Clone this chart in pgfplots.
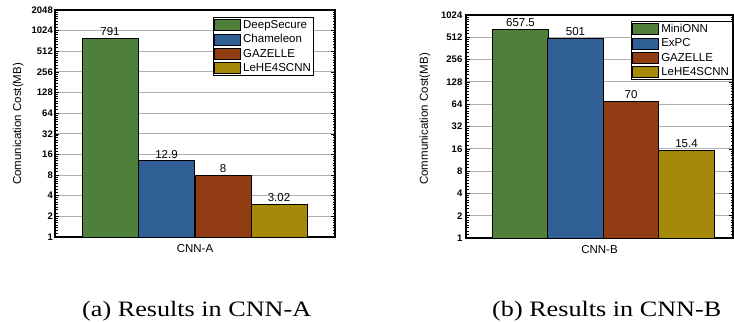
\documentclass[border=0pt]{standalone}
\usepackage{pgfplots}
\pgfplotsset{compat=1.18}
\usepackage{fontspec}
\setmainfont{Liberation Serif}
\newfontfamily\arial{Liberation Sans}

\definecolor{cgreen}{RGB}{78,128,58}
\definecolor{cblue}{RGB}{48,96,150}
\definecolor{corange}{RGB}{145,60,18}
\definecolor{cyellow}{RGB}{165,138,10}
\definecolor{cgrid}{RGB}{175,175,175}

\newcommand\fs[1]{\fontsize{#1}{#1}\selectfont}

\def\minorlist{}
\foreach \k in {0,...,10}{\foreach \i in {1,...,7}{\pgfmathsetmacro\v{2^\k*(1+\i/8)}\xdef\minorlist{\minorlist\v,}}}
\xdef\minorlist{\minorlist 1}

\tikzset{
  barA/.style={fill=cgreen, draw=black, line width=0.8bp},
  barB/.style={fill=cblue, draw=black, line width=0.8bp},
  barC/.style={fill=corange, draw=black, line width=0.8bp},
  barD/.style={fill=cyellow, draw=black, line width=0.8bp},
}

\begin{document}
\begin{tikzpicture}
\useasboundingbox (0,0) rectangle (734bp,322bp);
\begin{axis}[
  scale only axis, ymode=log, ymin=1,
  xmin=-1, xmax=1, xtick={0},
  ymajorgrids, major grid style={cgrid, line width=0.9bp},
  axis line style={line width=1.2bp},
  tick align=inside,
  major tick length=4bp, minor tick length=2.5bp,
  tick style={black, line width=0.6bp},
  major x tick style={draw=none},
  minor ytick/.expanded={\minorlist},
  yticklabel style={font=\arial\bfseries\fs{9.5bp}, inner sep=2bp},
  xticklabel style={font=\arial\fs{11.5bp}},
  ylabel style={font=\arial\fs{11.5bp}, anchor=center},
  ybar, bar width=56bp,
  nodes near coords, point meta=explicit symbolic,
  nodes near coords style={font=\arial\fs{11.5bp}, inner sep=2bp, anchor=south},
  legend style={anchor=north west, draw=black, line width=0.9bp,
    font=\arial\fs{11.5bp}, inner sep=1bp, row sep=0.6bp, cells={anchor=west}},
  legend image code/.code={\draw[#1] (0bp,-5.5bp) rectangle (26bp,5.5bp);},
  clip=false,
  at={(55bp,85bp)}, anchor=south west, width=280bp, height=227bp,
  ymax=2048,
  ytick={1,2,4,8,16,32,64,128,256,512,1024,2048},
  yticklabels={1,2,4,8,16,32,64,128,256,512,1024,2048},
  xticklabels={CNN-A},
  ylabel={Comunication Cost(MB)},
  ylabel style={at={(axis description cs:-0.132,0.498)}},
  legend style={at={(axis description cs:0.564,0.969)}},
]
\addplot[barA, bar shift=-85bp] coordinates {(0,791) [791]};
\addplot[barB, bar shift=-28.5bp] coordinates {(0,12.9) [12.9]};
\addplot[barC, bar shift=28bp] coordinates {(0,8) [8]};
\addplot[barD, bar shift=84bp] coordinates {(0,3.02) [3.02]};
\legend{DeepSecure,Chameleon,GAZELLE,LeHE4SCNN}
\end{axis}
\begin{axis}[
  scale only axis, ymode=log, ymin=1,
  xmin=-1, xmax=1, xtick={0},
  ymajorgrids, major grid style={cgrid, line width=0.9bp},
  axis line style={line width=1.2bp},
  tick align=inside,
  major tick length=4bp, minor tick length=2.5bp,
  tick style={black, line width=0.6bp},
  major x tick style={draw=none},
  minor ytick/.expanded={\minorlist},
  yticklabel style={font=\arial\bfseries\fs{9.5bp}, inner sep=3.5bp},
  xticklabel style={font=\arial\fs{11.5bp}},
  ylabel style={font=\arial\fs{11.5bp}, anchor=center},
  ybar, bar width=55.3bp,
  nodes near coords, point meta=explicit symbolic,
  nodes near coords style={font=\arial\fs{11.5bp}, inner sep=2bp, anchor=south},
  legend style={anchor=north west, draw=black, line width=0.9bp,
    font=\arial\fs{11.5bp}, inner sep=1bp, row sep=0.6bp, cells={anchor=west}},
  legend image code/.code={\draw[#1] (0bp,-5.5bp) rectangle (26bp,5.5bp);},
  clip=false,
  at={(466bp,84bp)}, anchor=south west, width=267bp, height=223bp,
  ymax=1024,
  ytick={1,2,4,8,16,32,64,128,256,512,1024},
  yticklabels={1,2,4,8,16,32,64,128,256,512,1024},
  xticklabels={CNN-B},
  ylabel={Communication Cost(MB)},
  ylabel style={at={(axis description cs:-0.154,0.534)}},
  legend style={at={(axis description cs:0.618,0.973)}},
]
\addplot[barA, bar shift=-79bp] coordinates {(0,657.5) [657.5]};
\addplot[barB, bar shift=-24bp] coordinates {(0,501) [501]};
\addplot[barC, bar shift=31.5bp] coordinates {(0,70) [70]};
\addplot[barD, bar shift=87bp] coordinates {(0,15.4) [15.4]};
\legend{MiniONN,ExPC,GAZELLE,LeHE4SCNN}
\end{axis}
\node[anchor=base west, inner sep=0pt, font=\fs{22bp}] at (82bp,6bp) {\scalebox{1.19}[1]{(a) Results in CNN-A}};
\node[anchor=base west, inner sep=0pt, font=\fs{22bp}] at (492bp,6bp) {\scalebox{1.19}[1]{(b) Results in CNN-B}};
\end{tikzpicture}
\end{document}
